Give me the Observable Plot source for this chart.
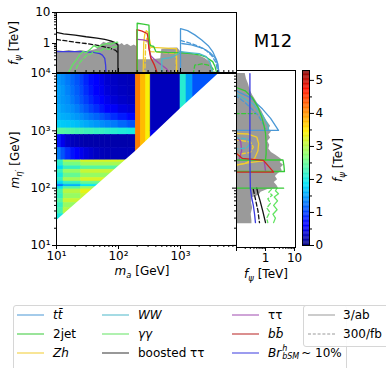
<!DOCTYPE html>
<html><head><meta charset="utf-8">
<script src="https://cdn.jsdelivr.net/npm/d3@7"></script>
<script src="https://cdn.jsdelivr.net/npm/@observablehq/plot@0.6"></script>
<style>
body{margin:0;background:#fff;font-family:"DejaVu Sans",sans-serif;}
#wrap{position:relative;width:386px;height:368px;overflow:hidden;background:#fff;}
#wrap svg{position:absolute;left:0;top:0;}
.lbl{position:absolute;font-size:12px;white-space:nowrap;transform:translate(-50%,-50%);color:#000;}
.rot{transform:translate(-50%,-50%) rotate(-90deg);}
.lbl sub{font-size:70%;vertical-align:-0.3em;line-height:0;}
.box{position:absolute;border:1px solid #d6d6d6;border-radius:3px;background:rgba(255,255,255,0.9);}
.le{position:absolute;font-size:12px;white-space:nowrap;transform:translateY(-50%);}
.ln{position:absolute;height:0;border-top-width:1.5px;border-top-style:solid;transform:translateY(-50%);}
.ss{display:inline-flex;flex-direction:column;font-size:8px;line-height:8px;vertical-align:middle;margin:0 2px 0 1px;}
</style></head><body><div id="wrap"></div>
<script>
// ---------------- heatmap data (m_a [GeV], m_eta' [GeV], f_psi [TeV]) ----------------
const maEdges = [10,12,14,17,20,24,28,34,40,50,60,75,100,140,190];
const upperRows = [[6000,10000],[4000,6000],[2800,4000],[2000,2800],[1500,2000],[1100,1500],[850,1100],[500,850],[305,500]];
const upperVals = [
  [1.45,1.4,1.3,1.2,1.1,1.0,0.85,0.72,0.6,0.48,0.38,0.32,0.28,0.26],
  [1.5,1.45,1.35,1.25,1.15,1.05,0.9,0.78,0.65,0.52,0.42,0.34,0.3,0.27],
  [1.5,1.45,1.4,1.3,1.2,1.1,0.98,0.86,0.74,0.6,0.5,0.4,0.34,0.3],
  [1.55,1.5,1.45,1.4,1.32,1.22,1.12,1.0,0.9,0.78,0.65,0.55,0.45,0.4],
  [1.6,1.58,1.55,1.5,1.45,1.4,1.32,1.25,1.18,1.1,1.0,0.9,0.8,0.7],
  [1.75,1.72,1.7,1.68,1.65,1.6,1.55,1.5,1.45,1.4,1.35,1.3,1.2,1.1],
  [2.4,2.4,2.35,2.35,2.3,2.3,2.25,2.25,2.2,2.2,2.15,2.1,2.05,2.0],
  [0.8,0.5,0.35,0.28,0.25,0.22,0.2,0.2,0.2,0.2,0.2,0.2,0.2,0.2],
  [1.3,1.1,0.9,0.75,0.6,0.5,0.42,0.36,0.3,0.27,0.25,0.25,0.25,0.25]];
const lowerCols = [10, 13, 25, 190];
const lowerRows = [[280,305],[240,280],[210,240],[180,210],[150,180],[130,150],[115,130],[105,115],[95,105],[80,95],[65,80],[55,65],[45,55],[35,45],[28,35],[10,28]];
const lowerVals = [
  [2.2,2.9,3.2],[2.1,2.6,2.9],[1.8,2.2,2.4],[2.2,2.8,3.1],[2.0,2.5,2.8],[2.2,2.9,3.2],
  [1.8,2.2,2.5],[1.3,1.6,1.9],[1.9,2.4,2.8],[2.3,3.0,3.3],[2.2,2.8,3.1],[2.4,3.1,3.3],
  [2.2,2.8,3.1],[2.3,3.0,3.3],[2.0,2.6,2.9],[1.8,2.4,2.7]];
const bandCols = [[190,230,4.1],[230,280,3.75],[280,330,3.4]];
const rightBlocks = [[330,1000,1000,10000,0.28],[330,1000,10,1000,0.5],[1000,1250,10,10000,2.1],[1250,1600,10,10000,1.5],[1600,8000,10,10000,1.1]];
const diagonal = [[10,27],[190,440],[1000,2420],[4150,10000],[8000,10000]];

// ---------------- top panel: [m_a, f_psi] ----------------
const grayTop = [[10,0.6],[13,0.55],[16,0.6],[20,0.55],[25,0.6],[30,0.55],[38,0.6],[45,0.65],[52,0.9],[58,1.1],[65,1.0],[75,1.15],[85,1.05],[95,1.1],[105,0.9],[115,1.0],[125,0.85],[140,0.95],[160,0.8],[180,0.9],[196,0.8],[200,0.3],[330,0.3],[335,0.6],[350,0.3],[480,0.32],[500,0.65],[700,0.7],[900,0.72],[1000,0.55],[1200,0.5],[1500,0.45],[2000,0.4],[2500,0.33],[3000,0.25],[3300,0.18],[3500,0.1]];
const boostTopSolid = [[10,2.3],[13,2.05],[20,1.85],[30,1.65],[45,1.5],[60,1.35],[75,1.22],[90,1.05],[98,0.9],[98,0.1]];
const boostTopDash = [[10,1.35],[15,1.2],[20,1.1],[30,1.0],[50,0.85],[70,0.72],[90,0.6],[98,0.5]];
const brTop = [[10,0.55],[20,0.55],[30,0.54],[40,0.52],[50,0.47],[55,0.42],[60,0.33],[62,0.2],[63,0.1]];
const ggTopSolid = [[15,0.1],[18,0.2],[21,0.3],[24,0.45],[27,0.55],[30,0.5],[35,0.65],[40,0.85],[45,0.75],[55,0.9],[65,1.0],[75,0.95],[85,1.05],[97,1.1]];
const ggTopDash = [[19,0.1],[22,0.2],[26,0.3],[30,0.4],[35,0.45],[40,0.55],[50,0.55],[60,0.7],[70,0.65],[80,0.75],[97,0.8]];
const jetTopSolid = [[200,0.1],[200,4.5],[250,4.2],[310,3.9],[315,1.0],[330,0.85],[370,0.8],[400,0.55],[600,0.52],[1000,0.5],[1500,0.47],[2100,0.42],[2600,0.36],[3300,0.26],[3600,0.18],[3900,0.1]];
const jetTopDash = [[1600,0.1],[1700,0.2],[2200,0.22],[2800,0.2],[3300,0.16],[3600,0.1]];
const bbTop = [[198,0.1],[198,2.8],[240,2.5],[290,2.1],[300,1.5],[310,0.7],[330,0.35],[380,0.2],[430,0.1]];
const tautauTop = [[200,1.35],[250,1.3],[300,1.2],[310,0.7],[330,0.4],[400,0.28],[500,0.2],[600,0.15],[700,0.1]];
const zhTopSolid = [[250,0.1],[255,1.0],[265,2.0],[280,2.6],[300,2.3],[320,1.2],[335,0.75],[500,0.72],[700,0.7],[860,0.68],[870,0.1]];
const zhTopDash = [[265,0.1],[275,1.0],[290,1.6],[310,1.2],[330,0.55],[600,0.5],[850,0.48],[860,0.1]];
const wwTop = [[500,0.1],[500,0.32],[700,0.35],[900,0.45],[1000,0.55],[1500,0.5],[2000,0.47],[2600,0.38],[3000,0.25],[3300,0.1]];
const ttTopSolid = [[1000,0.1],[1000,3.0],[1300,2.6],[1700,1.9],[2200,1.3],[2800,0.85],[3300,0.55],[3800,0.3],[4100,0.15],[4200,0.1]];
const ttTopSolid2 = [[1050,1.0],[1500,0.9],[2300,0.7],[3000,0.5],[3600,0.35],[4000,0.22],[4150,0.1]];
const ttTopDash = [[1000,1.25],[1500,1.0],[2000,0.8],[2600,0.6],[3200,0.4],[3700,0.25],[4000,0.12]];

// ---------------- right panel: [f_psi, m_eta'] ----------------
const grayRight = [[0.2,10000],[0.22,8000],[0.26,6500],[0.3,5000],[0.36,4200],[0.5,3200],[0.6,2600],[0.75,2200],[0.9,1800],[1.1,1500],[1.5,1200],[1.3,1050],[1.6,950],[1.3,850],[1.5,750],[1.2,650],[1.4,560],[1.3,480],[1.6,420],[2.2,380],[3.0,340],[3.8,310],[3.2,280],[4.2,250],[3.4,225],[3.8,200],[2.8,180],[2.2,160],[2.6,140],[2.0,125],[2.5,110],[2.8,100],[1.2,95],[0.7,85],[0.6,75],[0.35,68],[0.33,55],[0.36,45],[0.32,35],[0.34,27],[0.34,24]];
const brRight = [[0.29,10000],[0.29,1000],[0.29,300],[0.3,100],[0.33,70],[0.38,50],[0.42,35],[0.45,25]];
const boostRightSolid = [[0.5,100],[0.55,80],[0.65,60],[0.8,40],[0.95,28],[1.0,25]];
const boostRightDash = [[0.38,95],[0.42,75],[0.48,55],[0.55,40],[0.6,28],[0.62,25]];
const ggRightSolid = [[2.5,100],[2.2,90],[2.8,80],[2.0,70],[2.6,60],[1.9,50],[2.5,42],[1.8,35],[2.2,30],[1.9,25]];
const ggRightDash = [[1.6,95],[1.3,85],[1.7,75],[1.2,65],[1.5,55],[1.1,45],[1.4,38],[1.1,30],[1.2,25]];
const jetRight100 = [[0.09,100],[4.2,100]];
const jetRightBox = [[0.09,310],[4.0,310],[4.3,250],[4.5,195],[0.09,195]];
const jetRightArc = [[0.09,5800],[0.2,5000],[0.35,3800],[0.55,2600],[0.75,1700],[0.9,1200],[1.0,900],[1.05,600],[1.05,400],[1.0,310]];
const jetRightDash = [[0.09,2000],[0.45,2000]];
const ttRightSolid = [[0.09,5100],[0.3,3800],[0.79,2400],[1.5,1650],[2.8,1020],[0.09,1020]];
const ttRightDash = [[0.09,4200],[0.2,3100],[0.57,1850],[1.0,1100]];
const wwRight = [[0.09,4500],[0.36,3000],[0.8,1850],[1.2,1250],[1.3,1020]];
const wwRight2 = [[0.09,760],[0.25,720],[0.3,600],[0.22,500],[0.09,480]];
const zhRightSolid = [[0.09,900],[0.25,880],[0.5,780],[0.58,600],[0.55,450],[0.42,330],[0.2,270],[0.09,250]];
const zhRightDash = [[0.09,700],[0.3,640],[0.38,520],[0.3,420],[0.09,380]];
const zhRightLow = [[0.09,250],[0.25,275],[0.5,290],[0.8,300],[1.0,305]];
const tautauRight = [[0.09,830],[0.14,650],[0.15,450],[0.13,340],[0.12,300]];
const tautauRight2 = [[0.9,300],[1.0,200]];
const bbRight = [[0.09,420],[0.16,330],[0.85,305],[1.9,190],[0.09,190]];

// ---------------- colours / labels ----------------
const C = {tt:"#4a98d6", jet:"#36c936", zh:"#f2cc2e", ww:"#4cb8c9", gg:"#62e462", boost:"#111", tautau:"#a04ab0", bb:"#d42424", br:"#3a3ae0", gray:"#9a9a9a"};
const colorbarTicks = [0,1,2,3,4,5];
const jetDomain = [0, 0.583, 0.6625, 1.855, 2.65, 3.445, 4.717, 5.3];
const jetRange = ["#00007f","#0000ff","#0000ff","#00e4f8","#7dff7a","#fff000","#ff1300","#7f0000"];

// ---------------- build ----------------
const W = 386, H = 368;
const style = {background:"none", fontFamily:"DejaVu Sans, sans-serif", fontSize:"12px", color:"#000", overflow:"visible"};
const colorScale = {type:"linear", domain: jetDomain, range: jetRange, clamp:true};
function minorTicks(lo, hi) { const t=[]; for (let e=Math.floor(Math.log10(lo)); e<=Math.ceil(Math.log10(hi)); e++) for (let k=2;k<=9;k++){const v=k*Math.pow(10,e); if(v>=lo&&v<=hi) t.push(v);} return t; }
const sup = {1:"¹",2:"²",3:"³",4:"⁴"};
const pow10 = d => "10" + sup[Math.round(Math.log10(d))];
const X = d => d[0], Y = d => d[1];
const ln = (data, stroke, dash) => Plot.line(data, {x:X, y:Y, stroke, strokeWidth:1.3, strokeDasharray: dash ? "4,2.5" : null, clip:true});

const cells = [];
upperRows.forEach((r,i) => maEdges.slice(0,-1).forEach((a,j) => cells.push({x1:a, x2:maEdges[j+1], y1:r[0], y2:r[1], v:upperVals[i][j]})));
lowerRows.forEach((r,i) => lowerCols.slice(0,-1).forEach((a,j) => cells.push({x1:a, x2:lowerCols[j+1], y1:r[0], y2:r[1], v:lowerVals[i][j]})));
bandCols.forEach(([a,b,v]) => cells.push({x1:a, x2:b, y1:10, y2:10000, v}));
rightBlocks.forEach(([a,b,c,d,v]) => cells.push({x1:a, x2:b, y1:c, y2:d, v}));

const wrap = document.getElementById("wrap");

// main heatmap
wrap.appendChild(Plot.plot({
  width:W, height:H, marginLeft:56, marginRight:150, marginTop:73, marginBottom:123, style,
  x:{type:"log", domain:[10,8000]}, y:{type:"log", domain:[10,10000]}, color: colorScale,
  marks:[
    Plot.rect(cells, {x1:"x1", x2:"x2", y1:"y1", y2:"y2", fill:"v", stroke:"v", strokeWidth:0.6, clip:true}),
    Plot.areaY(diagonal, {x:X, y1:10, y2:Y, fill:"white", clip:true}),
    Plot.axisX({ticks:[10,100,1000], tickFormat:pow10, tickSize:4, tickPadding:2, label:null}),
    Plot.axisX({ticks:minorTicks(10,8000), tickFormat:()=>"", tickSize:2, label:null}),
    Plot.axisY({ticks:[10,100,1000,10000], tickFormat:pow10, tickSize:4, tickPadding:2, label:null}),
    Plot.axisY({ticks:minorTicks(10,10000), tickFormat:()=>"", tickSize:2, label:null}),
    Plot.frame({stroke:"black"})
  ]}));

// top panel
wrap.appendChild(Plot.plot({
  width:W, height:H, marginLeft:56, marginRight:150, marginTop:12, marginBottom:296, style,
  x:{type:"log", domain:[10,8000]}, y:{type:"log", domain:[0.116,10]},
  marks:[
    Plot.areaY(grayTop, {x:X, y1:0.116, y2:Y, fill:C.gray, clip:true}),
    ln(boostTopSolid, C.boost), ln(boostTopDash, C.boost, true),
    ln(brTop, C.br),
    ln(ggTopSolid, C.gg), ln(ggTopDash, C.gg, true),
    ln(zhTopSolid, C.zh), ln(zhTopDash, C.zh, true),
    ln(tautauTop, C.tautau),
    ln(bbTop, C.bb),
    ln(jetTopSolid, C.jet), ln(jetTopDash, C.jet, true),
    ln(wwTop, C.ww),
    ln(ttTopSolid, C.tt), ln(ttTopSolid2, C.tt), ln(ttTopDash, C.tt, true),
    Plot.axisY({ticks:[1,10], tickFormat:d=>String(d), tickSize:4, tickPadding:2, label:null}),
    Plot.axisY({ticks:minorTicks(0.116,10), tickFormat:()=>"", tickSize:2, label:null}),
    Plot.axisX({ticks:[10,100,1000], tickFormat:()=>"", tickSize:-4, label:null}),
    Plot.axisX({ticks:minorTicks(10,8000), tickFormat:()=>"", tickSize:-2, label:null}),
    Plot.frame({stroke:"black"})
  ]}));

// right panel
wrap.appendChild(Plot.plot({
  width:W, height:H, marginLeft:236, marginRight:91, marginTop:70, marginBottom:121, style,
  x:{type:"log", domain:[0.1,10.8]}, y:{type:"log", domain:[9.2,11300]},
  marks:[
    Plot.areaX(grayRight, {y:Y, x1:0.1, x2:X, fill:C.gray, clip:true}),
    ln(ggRightSolid, C.gg), ln(ggRightDash, C.gg, true),
    ln(boostRightSolid, C.boost), ln(boostRightDash, C.boost, true),
    ln(zhRightSolid, C.zh), ln(zhRightDash, C.zh, true), ln(zhRightLow, C.zh),
    ln(tautauRight, C.tautau), ln(tautauRight2, C.tautau),
    ln(wwRight, C.ww), ln(wwRight2, C.ww, true),
    ln(ttRightSolid, C.tt), ln(ttRightDash, C.tt, true),
    ln(jetRightArc, C.jet), ln(jetRightDash, C.jet, true),
    ln(jetRightBox, C.jet), ln(bbRight, C.bb), ln(jetRight100, C.jet),
    ln(brRight, C.br),
    Plot.axisX({ticks:[1,10], tickFormat:d=>String(d), tickSize:4, tickPadding:2, label:null}),
    Plot.axisX({ticks:[0.1], tickFormat:()=>"", tickSize:4, label:null}),
    Plot.axisX({ticks:minorTicks(0.1,10.8), tickFormat:()=>"", tickSize:2, label:null}),
    Plot.axisY({ticks:[10,100,1000,10000], tickFormat:()=>"", tickSize:4, label:null}),
    Plot.axisY({ticks:minorTicks(9.2,11300), tickFormat:()=>"", tickSize:2, label:null}),
    Plot.frame({stroke:"black"})
  ]}));

// colorbar
const cbSteps = d3.range(0, 5.3, 0.025);
wrap.appendChild(Plot.plot({
  width:W, height:H, marginLeft:302, marginRight:77, marginTop:70, marginBottom:123, style,
  x:{domain:[0,1], axis:null}, y:{domain:[0,5.3]}, color: colorScale,
  marks:[
    Plot.rect(cbSteps, {x1:0, x2:1, y1:d=>d, y2:d=>Math.min(d+0.03,5.3), fill:d=>d+0.0125}),
    Plot.axisY({anchor:"right", ticks:colorbarTicks, tickFormat:d=>String(d), tickSize:4, tickPadding:2, label:null}),
    Plot.axisY({anchor:"right", ticks:[0.5,1.5,2.5,3.5,4.5], tickFormat:()=>"", tickSize:2, label:null}),
    Plot.frame({stroke:"black"})
  ]}));

// text labels
function addLabel(html, x, y, cls, size) {
  const d = document.createElement("div");
  d.className = "lbl" + (cls ? " " + cls : "");
  d.style.left = x + "px"; d.style.top = y + "px";
  if (size) d.style.fontSize = size + "px";
  d.innerHTML = html; wrap.appendChild(d);
}
const fpsi = '<i>f</i><sub><i>ψ</i></sub> [TeV]';
addLabel(fpsi, 14, 43, "rot");
addLabel('<i>m</i><sub><i>η′</i></sub> [GeV]', 15, 160, "rot");
addLabel('<i>m</i><sub><i>a</i></sub> [GeV]', 142, 271);
addLabel(fpsi, 266, 274);
addLabel(fpsi, 338, 160, "rot");
addLabel('M12', 273, 40, null, 18);

// legend
const legendEntries = [
  {col:0,row:0,color:C.tt,html:'<i>t</i><i>t̄</i>'},
  {col:0,row:1,color:C.jet,html:'2jet'},
  {col:0,row:2,color:C.zh,html:'<i>Zh</i>'},
  {col:1,row:0,color:C.ww,html:'<i>WW</i>'},
  {col:1,row:1,color:C.gg,html:'<i>γγ</i>'},
  {col:1,row:2,color:"#333",html:'boosted ττ'},
  {col:2,row:0,color:C.tautau,html:'ττ'},
  {col:2,row:1,color:"#b82020",html:'<i>b</i><i>b̄</i>'},
  {col:2,row:2,color:C.br,html:'<i>Br</i><span class="ss"><i>h</i><i>bSM</i></span>~ 10%'}
];
const lumiEntries = [
  {row:0,dash:false,html:'3/ab'},
  {row:1,dash:true,html:'300/fb'}
];
const colLine = [17,102,232], colText = [53,138,268], rowY = [315,334,353];
function box(l,t,w,h){const b=document.createElement("div");b.className="box";b.style.left=l+"px";b.style.top=t+"px";b.style.width=w+"px";b.style.height=h+"px";wrap.appendChild(b);}
function entry(x1, xt, y, color, dash, html){
  const l=document.createElement("div"); l.className="ln"; l.style.left=x1+"px"; l.style.top=y+"px"; l.style.width="27px";
  l.style.borderTopColor=color; if(dash) l.style.borderTopStyle="dashed"; wrap.appendChild(l);
  const t=document.createElement("div"); t.className="le"; t.style.left=xt+"px"; t.style.top=y+"px"; t.innerHTML=html; wrap.appendChild(t);
}
box(13,305,332,70);
legendEntries.forEach(e => entry(colLine[e.col], colText[e.col], rowY[e.row], e.color, false, e.html));
box(303,305,100,40);
lumiEntries.forEach(e => entry(308, 343, rowY[e.row], "#999", e.dash, e.html));
</script></body></html>
